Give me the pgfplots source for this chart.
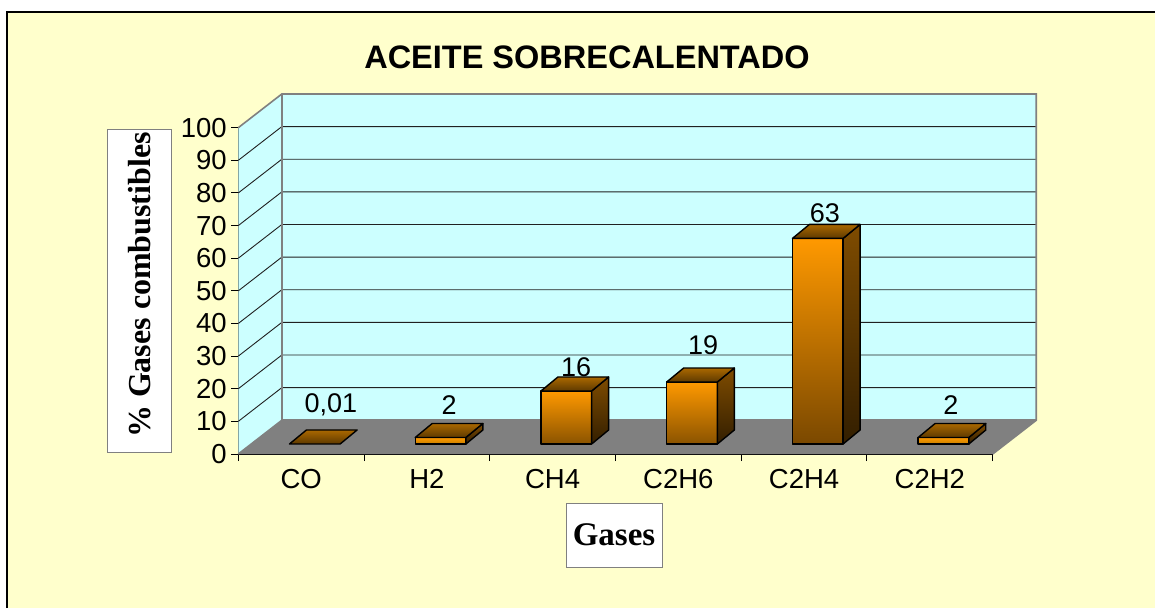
\documentclass[border=0pt]{standalone}
\usepackage{fontspec}
\setmainfont{Liberation Sans}
\newfontfamily\serifb[BoldFont={Liberation Serif Bold}]{Liberation Serif}
\usepackage{pgfplots}
\pgfplotsset{compat=1.18}
\definecolor{bgc}{HTML}{FFFFCC}
\definecolor{wallc}{HTML}{CCFFFF}
\definecolor{floorc}{HTML}{808080}
\definecolor{gridc}{HTML}{202020}
\definecolor{org}{HTML}{FF9900}
\definecolor{AAbrown}{HTML}{AA6800}
\definecolor{barside}{HTML}{7F4C00}
\definecolor{botA}{HTML}{C88000}
\definecolor{botB}{HTML}{8A5300}
\definecolor{botC}{HTML}{7A4800}
\pgfplotsset{
  wall/.style={fill=wallc,draw=none,forget plot},
  gridl/.style={draw=gridc,line width=0.9pt,mark=none,forget plot},
  edge/.style={draw=floorc,line width=1.6pt,mark=none,forget plot},
  front/.style={draw=black,line width=1.4pt,mark=none,forget plot,line join=round,top color=org,bottom color=#1},
  side/.style={draw=black,line width=1.4pt,mark=none,forget plot,line join=round,top color=#1,bottom color=#1!40!black},
  topf/.style={draw=black,line width=1.4pt,mark=none,forget plot,line join=round,top color=#1,bottom color=#1!55!black},
}
\begin{document}
\begin{tikzpicture}[x=1pt,y=1pt]
\useasboundingbox (0,0) rectangle (1155,608);
\fill[white] (0,0) rectangle (1155,608);
\fill[bgc] (7,0) rectangle (1155,596);
\draw[black,line width=1.5pt] (7,0) -- (7,596) -- (1155,596);
\begin{axis}[
  at={(238.3pt,154pt)},anchor=origin,
  scale only axis,width=754.4pt,height=326.3pt,
  xmin=0,xmax=6,ymin=0,ymax=100,clip=false,
  axis lines*=left,
  axis line style={black,line width=1.4pt},
  xtick={0,1,2,3,4,5,6},
  x tick label as interval,
  xticklabels={CO,H2,CH4,C2H6,C2H4,C2H2},
  ytick={0,10,...,100},
  tick align=outside,major tick length=7pt,
  tick style={black,line width=1pt},
  /pgf/number format/assume math mode=true,
  tick label style={font=\fontsize{27.5}{30}\selectfont},
  xticklabel style={yshift=-5pt},
  yticklabel style={xshift=-1pt},
]
% walls and floor
\addplot[wall] coordinates {(0.346,10.33) (6.346,10.33) (6.346,110.33) (0.346,110.33)} --cycle;
\addplot[wall] coordinates {(0,0) (0.346,10.33) (0.346,110.33) (0,100)} --cycle;
\addplot[fill=floorc,draw=none,forget plot] coordinates {(0,0) (6,0) (6.346,10.33) (0.346,10.33)} --cycle;
% gridlines
\addplot[gridl] coordinates {(0,10) (0.346,20.33) (6.346,20.33)};
\addplot[gridl] coordinates {(0,20) (0.346,30.33) (6.346,30.33)};
\addplot[gridl] coordinates {(0,30) (0.346,40.33) (6.346,40.33)};
\addplot[gridl] coordinates {(0,40) (0.346,50.33) (6.346,50.33)};
\addplot[gridl] coordinates {(0,50) (0.346,60.33) (6.346,60.33)};
\addplot[gridl] coordinates {(0,60) (0.346,70.33) (6.346,70.33)};
\addplot[gridl] coordinates {(0,70) (0.346,80.33) (6.346,80.33)};
\addplot[gridl] coordinates {(0,80) (0.346,90.33) (6.346,90.33)};
\addplot[gridl] coordinates {(0,90) (0.346,100.33) (6.346,100.33)};
% wall edges
\addplot[edge] coordinates {(0,100) (0.346,110.33) (6.346,110.33) (6.346,10.33) (6,0)};
\addplot[edge] coordinates {(0.346,110.33) (0.346,10.33) (6.346,10.33)};
\addplot[edge] coordinates {(0,0) (0.346,10.33)};
% CO 0.01
\addplot[topf=AAbrown] coordinates {(0.407,3.07) (0.810,3.07) (0.945,7.36) (0.542,7.36)} --cycle;
% H2 2
\addplot[front=botA] coordinates {(1.407,3.06) (1.810,3.06) (1.810,5.06) (1.407,5.06)} --cycle;
\addplot[side=barside] coordinates {(1.810,3.06) (1.945,7.35) (1.945,9.35) (1.810,5.06)} --cycle;
\addplot[topf=AAbrown] coordinates {(1.407,5.06) (1.810,5.06) (1.945,9.35) (1.542,9.35)} --cycle;
% CH4 16
\addplot[front=botB] coordinates {(2.407,3.06) (2.810,3.06) (2.810,19.3) (2.407,19.3)} --cycle;
\addplot[side=barside] coordinates {(2.810,3.06) (2.945,7.35) (2.945,23.6) (2.810,19.3)} --cycle;
\addplot[topf=AAbrown] coordinates {(2.407,19.3) (2.810,19.3) (2.945,23.6) (2.542,23.6)} --cycle;
% C2H6 19
\addplot[front=botB] coordinates {(3.407,3.06) (3.810,3.06) (3.810,22.06) (3.407,22.06)} --cycle;
\addplot[side=barside] coordinates {(3.810,3.06) (3.945,7.35) (3.945,26.35) (3.810,22.06)} --cycle;
\addplot[topf=AAbrown] coordinates {(3.407,22.06) (3.810,22.06) (3.945,26.35) (3.542,26.35)} --cycle;
% C2H4 63
\addplot[front=botC] coordinates {(4.407,3.06) (4.810,3.06) (4.810,66.06) (4.407,66.06)} --cycle;
\addplot[side=barside] coordinates {(4.810,3.06) (4.945,7.35) (4.945,70.35) (4.810,66.06)} --cycle;
\addplot[topf=AAbrown] coordinates {(4.407,66.06) (4.810,66.06) (4.945,70.35) (4.542,70.35)} --cycle;
% C2H2 2
\addplot[front=botA] coordinates {(5.407,3.06) (5.810,3.06) (5.810,5.06) (5.407,5.06)} --cycle;
\addplot[side=barside] coordinates {(5.810,3.06) (5.945,7.35) (5.945,9.35) (5.810,5.06)} --cycle;
\addplot[topf=AAbrown] coordinates {(5.407,5.06) (5.810,5.06) (5.945,9.35) (5.542,9.35)} --cycle;
% data labels
\addplot[only marks,mark=none,forget plot,nodes near coords,point meta=explicit symbolic,
  every node near coord/.append style={anchor=center,text=black,inner sep=0pt,font=\fontsize{27}{30}\selectfont}]
  table[x=x,y=y,meta=l] {
x y l
0.737 15 0,01
1.676 15 2
2.686 26.7 16
3.696 33.4 19
4.666 73.9 63
5.668 15 2
};
\end{axis}
\node[font=\bfseries\fontsize{32.5}{36}\selectfont] at (587,551) {ACEITE SOBRECALENTADO};
\node[draw=floorc,fill=white,line width=1pt,minimum width=63.6pt,minimum height=322pt,inner sep=0pt] at (139.5,317) {};
\node[rotate=90,font=\serifb\bfseries\fontsize{32}{36}\selectfont] at (140,323) {\% Gases combustibles};
\node[draw=floorc,fill=white,line width=1pt,minimum width=96pt,minimum height=64pt,inner sep=0pt,font=\serifb\bfseries\fontsize{33}{36}\selectfont] at (614,73) {Gases};
\end{tikzpicture}
\end{document}
